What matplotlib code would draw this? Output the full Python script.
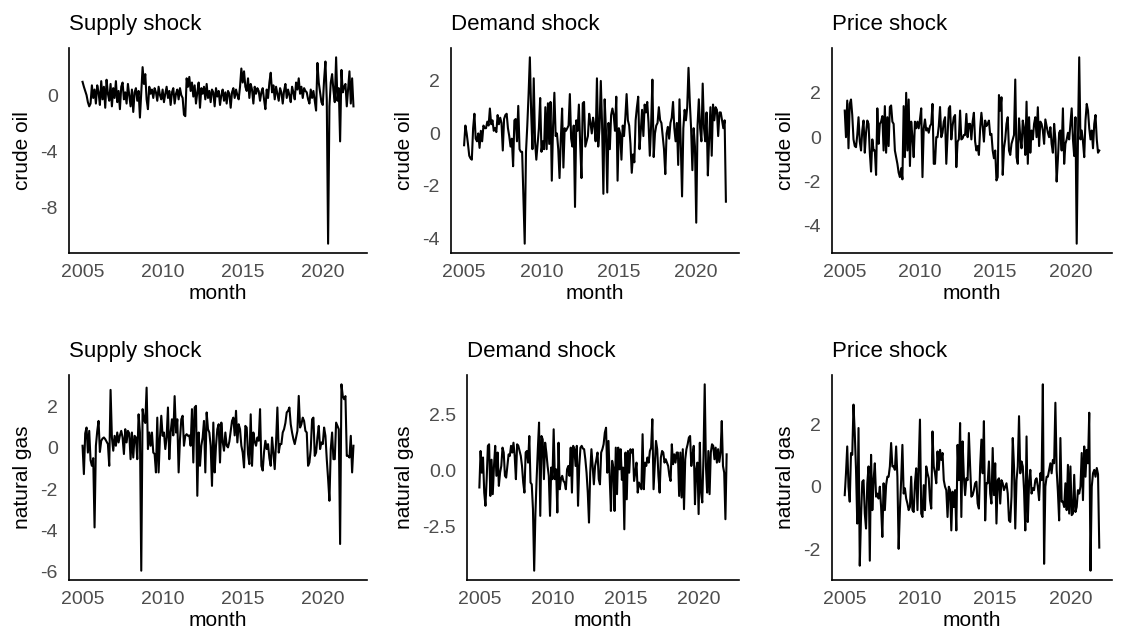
import numpy as np
import matplotlib
matplotlib.use('Agg')
import matplotlib.pyplot as plt

plt.rcParams['font.family'] = ['Liberation Sans', 'DejaVu Sans']
plt.rcParams['axes.unicode_minus'] = False

# monthly shocks, Jan 2005 - Dec 2021
start_year = 2005

supply_oil = [
    0.95, 0.6, 0.3, 0.0, -0.5, -0.8, -0.6, 0.7, -0.2, 0.4, -0.6, 0.7,
    0.2, -0.7, 1.0, -0.3, 0.6, -0.9, 1.1, 0.1, -0.4, 0.8, -0.8, 0.5,
    -0.2, 1.0, -0.5, 0.3, -1.0, 0.6, 0.9, -0.3, 0.2, -0.6, 0.8, 0.0,
    -0.8, 0.4, -1.2, 0.2, 0.5, -0.4, 0.3, -1.6, 0.2, 2.0, 0.8, 1.5,
    -0.3, -1.0, 0.6, 0.1, 0.4, -0.2, 0.5, 0.2, -0.4, 0.6, 0.0, -0.3,
    0.4, -0.5, 0.1, 0.6, -0.2, 0.3, -0.7, 0.2, 0.5, -0.6, 0.1, 0.4,
    -0.3, 0.5, 0.0, -0.2, -1.4, -1.5, 1.2, 0.6, 1.3, 0.3, 0.9, -0.1,
    0.7, -0.6, 0.2, 0.9, -0.9, 0.5, 0.1, 0.6, -0.3, 0.8, -0.2, 0.3,
    -0.5, 0.4, 0.2, -0.8, 0.5, -0.1, 0.3, -0.7, 0.0, 0.4, -0.4, 0.2,
    -0.6, 0.3, 0.1, -0.9, 0.2, 0.5, -0.2, 0.4, 0.0, -0.3, 0.6, 1.9,
    0.9, 1.7, 0.6, 0.3, 1.2, -0.2, 0.8, 0.4, -0.6, 0.6, 0.1, 0.5,
    0.3, -0.4, 0.2, 0.5, -0.3, -1.0, 0.4, -0.2, 0.9, 1.6, 0.2, 0.7,
    -0.3, 0.6, 0.1, -0.4, 0.5, 0.2, -0.6, 0.3, 0.8, -0.2, 0.4, 0.0,
    -0.5, 0.6, 0.2, -0.3, 0.9, 0.4, 1.2, 0.1, 0.6, -0.2, 0.5, 0.3,
    0.2, -0.3, -0.6, 0.4, -0.2, 0.3, -0.4, -1.1, 2.3, 0.9, 0.2, -0.5,
    -0.7, 1.1, 2.4, -0.3, -10.6, -0.8, 0.9, 1.5, 0.35, -0.5, 2.7, -0.4,
    0.5, -3.3, 1.8, 0.2, 0.6, 0.8, -0.8, 0.4, 1.7, -0.6, 1.2, -0.8,
]

demand_oil = [
    -0.45, 0.3, 0.0, -0.4, -0.85, -0.95, -1.0, 0.2, 0.75, -0.2, -0.3, 0.0,
    -0.55, 0.1, -0.3, 0.3, 0.2, 0.2, 0.45, 0.3, 0.95, 0.35, 0.5, 0.1,
    0.2, 0.05, 0.7, 0.35, 0.6, 0.4, -0.65, 0.55, 0.7, 0.75, 0.2, -0.1,
    -0.5, -0.2, -1.25, 0.5, 0.55, -0.3, 1.05, -0.6, -0.7, -0.7, -2.5, -4.2,
    -0.7, 0.3, 1.5, 2.9, 0.8, -0.6, 2.1, -0.3, -1.0, -0.4, 0.2, 1.35,
    -0.7, -0.3, -0.6, 1.0, -0.6, 1.15, -0.4, 1.2, -1.8, 0.3, 1.55, -0.1,
    0.0, -0.6, -1.7, -0.2, 0.95, -1.3, 0.2, 0.1, 0.2, 0.3, 1.5, -0.2,
    -0.5, 0.3, -2.8,
    0.5, 0.1, 1.1, -0.4, -1.7, 1.15, 1.2, -0.5, -0.3, -0.1, 0.75, 0.4,
    0.0, 0.6, 0.3, -0.3, 2.1, -0.5, 0.2, 2.0, 0.3, -2.3, 1.3, 0.1,
    -2.25, 0.4, -0.6, 0.7, 0.95, 0.7, 0.1, 1.4, -1.8, 0.2, 0.0, -1.0,
    0.3, -0.1, 0.6, 1.5, 0.5, 0.3, -0.4, -1.5, -0.8, -1.1, 0.5, 1.0,
    1.4, -0.6, 0.1, 0.9, -0.1, 1.1, 0.8, 1.2, 0.4, -0.85, 0.3, 2.05,
    -0.9, 0.0, 0.3, 0.4, 1.0, 0.5, 0.4, -0.1, -0.6, -1.55, 0.0, 0.25,
    -0.2, 0.4, 0.6, 1.2, 0.2, -0.3, 0.4, -1.2, 1.3, -0.4, -2.4, 0.2,
    0.9, 0.5, 1.0, 2.5, 1.2, 0.2, -1.4, 0.2, -0.5, -3.4, 0.3, 1.3,
    0.2, -0.3, 1.9, 0.2, -0.3, 0.8, -1.6, -0.2, 1.0, -0.85, 1.1, 0.5,
    1.0, 0.9, -0.1, 0.8, 0.8, 0.5, 0.2, 0.5, -2.6,
]

price_oil = [
    1.2, 0.0, 1.65, -0.5, 1.5, 1.7, 1.0, -0.1, -0.4, -0.45, 0.1, 0.9,
    -0.2, -0.6, 0.3, 0.75, -0.7, 0.2, 0.75, 0.6, -0.7, -1.55, -0.1, -0.6,
    -0.6, -1.7, 1.3, -0.3, 0.6, 0.7, 0.95, -0.6, 1.4, -0.7, 0.9, -0.4,
    1.36, 1.43, 0.7, 0.6, -0.6, -0.9, -1.2, -1.6, -1.8, -1.4, -1.9, 1.4,
    -0.9, 2.0, -0.6, 1.7, -1.3, 0.7, 0.0, -0.9, 0.7, 0.4, 0.7, 0.4,
    0.8, 1.3, -1.8, 0.4, 0.8, 0.3, 0.4, 0.2, 0.5, 0.6, 1.5, -1.2,
    -1.2, 0.0, 0.0, 0.5, 1.36, 0.0, 0.2, 0.7, 0.9,
    -1.2, 0.0, 1.3, 1.4, -0.1, 0.5, 0.9, 1.0, -1.35, -0.2, -0.1, 1.2,
    -0.1, -0.05, 0.1, 0.1, 1.05, 0.0, 0.6, 0.6, -0.1, 0.7, 1.1, -0.2,
    -0.6, -0.4, -0.8, 0.4, 1.1, 0.5, -0.2, 0.75, 0.5, 0.6, 0.75, 0.1,
    0.15, -0.6, -0.95, -0.6, -1.95, -1.8, 1.9, 1.2, 1.8, -1.7, -0.5, -0.1,
    0.6, 0.9, -0.6, -0.8, -0.3, -0.1, 0.1, 2.6, -0.9, -1.2, 0.85, 0.0,
    -0.5, 0.75, 0.4, -0.8, 1.6, -1.2, 0.9, -0.7, 0.3, -0.1, 0.6, 0.9,
    0.0, 1.35, -0.4, 0.7, 0.6, 0.3, -0.3, 0.8, 0.5, 0.2, 0.0, 0.45,
    -0.3, -0.7, 0.6, -0.1, -2.0, -1.0, 0.2, 0.3, -0.6, 1.3, -1.2, -0.3,
    -0.1, 0.2, -0.1, 0.6, 1.3, -0.1, -0.85, 0.9, -4.8, -0.1, 3.6, -0.1,
    0.3, -0.2, -0.9, 0.75, 1.5, 1.2, 0.4, -0.1, 0.3, -0.5, 0.6, 1.0,
    -0.1, -0.7, -0.6,
]

supply_gas = [
    0.1, -1.27, 0.7, 0.98, -0.23, 0.82, -0.6, -0.87, -0.5, -3.85, 0.1, 0.8,
    1.3, -0.2, 0.34, 0.45, 0.5, 0.42, 0.3, 0.18, -0.87, 2.8, 0.5, -0.14,
    0.58, 0.1, 0.74, 0.26, 0.6, 0.82, 0.5, -0.3, 0.9, 0.26, 0.82, 0.7,
    -0.55, 0.74, -0.47, 0.58, 0.5, -0.55, 1.62, 0.74, -5.94, 1.87, 1.38, 1.2,
    2.91, -0.06, 0.74, 0.1, 0.74, -0.23, -0.3, -1.19, 1.46, -1.19, 0.5, 1.55,
    0.58, 0.74, -0.06, 0.5, 1.95, -0.55, 0.74, 1.38, 0.6, 2.5, 0.74, 1.38,
    -1.19, 0.4, 1.38, 1.55, 0.1, 0.58, 0.66, 0.58, 0.6, 0.1, 1.87, -0.71,
    1.95, 2.03, -2.32, 0.74, -0.87, 0.1, 0.5, 1.3, -1.19, 1.71, 0.9, 0.74,
    0.1, -1.84, 1.22, -1.19, 0.1, 0.9, 1.14, -0.71, 1.22, 0.3, -0.14, 0.74,
    0.1, 0.02, 0.3, 0.82, 1.30, 1.46, 0.6, 1.79, 0.26, 1.14, 0.9, 0.1,
    -0.23, -0.95, 1.06, 0.98, -0.3, -0.79, 1.62, -0.87, 0.74, 0.3, 0.1, 0.50,
    0.34, 1.87, -0.87, -1.1, -0.2, 0.34, -0.06, 0.18, -0.5, -0.87, 0.50, -0.23,
    -1.03, 0.26, 1.95, -0.23, 0.18, 0.18, 0.74, 0.9, 1.2, 1.71, 1.79, 1.95,
    1.14, 0.74, 0.42, 0.18, 0.5, 0.82, 2.51, 0.98, 1.14, 1.46, 1.30, 0.82,
    0.74, -0.87, -0.71, -0.06, 1.38, 1.46, -0.39, -0.23, 0.5, 1.06, -0.06, 0.26,
    0.18, 0.98, 0.58, -0.55, -1.5, -2.56, -0.06, 0.74, -0.55, -0.55, 1.22, 1.06,
    0.9, -4.65, 3.07, 2.5, 2.35, 2.5, -0.39, -0.39, -0.47, 0.58, -1.19, 0.1,
]

demand_gas = [
    -0.74, 0.89, -0.08, 0.60, -0.97, -1.56, -0.37, 1.12, 1.19, -1.12, 0.5, -1.04,
    0.22, 1.12, -0.22, 0.82, -0.67, -0.08, 0.22, 1.04, 0.82, -0.22, -0.3, 0.22,
    0.74, 0.67, 1.12, 0.82, 1.26, 0.67, -0.37, 1.19, 1.12, 0.9, 0.67, 0.22,
    -0.52, -0.97, 0.82, 0.89, 0.37, 1.56, -0.52, -0.60, -1.71, -4.46, -1.93, -0.37,
    0.97, 2.16, -2.01, 1.56, 1.41, -0.37, 1.26, 0.82, 0.22, -0.22, -2.01, 0.15,
    -0.37, 1.86, -0.37, 0.07, -1.86, 1.26, -0.82, -0.37, -0.22, -0.45, -0.52, -0.82,
    0.07, 0.22, -0.22, 1.04, -0.97, 1.12, 0.97, 0.22, 1.12, -1.56, 0.22, 1.04,
    1.12, 1.0,
    0.97, 0.52, -0.08, -0.97, -2.31, -0.08, 0.97, 0.22, -0.60, 0.22, 0.5, 0.82,
    -0.37, -0.60, 0.82, 0.97, 1.19, 1.71, 1.93, -0.08, 1.34, -0.30, -1.79, 0.45,
    0.15, -1.79, 1.04, -1.04, 1.04, 0.07, 0.97, -0.4, 0.15, -2.61, 0.82, -1.27,
    0.89, -0.08, 0.97, 0.82, 0.97, -0.45, -0.08, 0.37, -0.97, -0.52, -0.67, -0.82,
    1.64, -0.82, 0.37, 0.22, 0.6, 0.37, 0.89, 1.04, 2.31, -0.82, 0.22, 1.34,
    0.97, -0.22, -0.97, 0.60, 0.89, 0.82, 0.37, 0.52, 0.37, 0.22, -0.22, -0.45,
    1.19, 0.3, 0.74, 0.37, 0.82, 0.82, -1.12, 0.82, -1.19, 0.97, -1.71, 0.52,
    0.97, 1.19, 1.49, 1.56, 0.22, 0.7, 1.12, -1.49, 0.07, 0.37, -1.93, 1.26,
    -0.97, -1.41, 0.67, 3.87, 0.22, -0.97, 0.89, -1.04, 0.82, 1.19, 1.12, 0.52,
    1.04, 0.37, 0.97, 0.4, 0.82, 2.23, 0.22, -0.08, -2.16, 0.74,
]

price_gas = [
    -0.27, 0.43, 1.29, 0.0, -0.48, 1.08, 1.02, 2.63, 1.72, 0.54, -1.18, 1.88,
    -2.53, -0.97, 0.16, 0.21, -0.86, -1.34, 0.11, 0.65, -2.37, 1.02, -0.75, 0.21,
    0.75, -0.32, -0.22, -0.38, 0.0, -0.65, -1.61, 0.11, -0.75, 0.05, 0.32, 0.32,
    0.65, 1.40, 0.65, 0.65, 0.54, 1.29, 0.32, -1.99, -0.75, 0.21, 1.34, -0.22,
    -0.05, -0.38, -0.54, -0.75, -0.65, 0.32, -0.75, -0.81, 0.11, 0.59, -0.75, 0.65,
    2.15, -0.86, -0.97, 0.05, -0.75, 0.65, 0.43, 0.27, -0.43, -0.70, 1.77, 0.65,
    0.43, 0.11, 1.13, 0.54, 1.18, 0.86, 1.08, 0.21, 0.0, -0.11, -0.97, 0.0,
    -0.11, -1.40, -0.16,
    -0.65, -0.11, -1.40, 1.34, 0.21, 2.04, -0.97, 1.45, 0.32, -0.27, 0.27, 0.21,
    1.72, 0.65, -0.32, -0.27, -0.11, 0.11, 0.16, -0.54, -0.70, 0.65, 1.51, 0.43,
    2.10, -1.08, 0.11, 0.11, 0.81, -0.22, -0.54, 1.24, -0.27, 0.75, -1.18, 0.21,
    0.27, -0.54, 0.21, 0.11, -0.11, 0.0, 0.11, -0.22, -1.08, -1.13, -0.32, 1.56,
    0.65, -1.34, 0.21, 0.65, 2.26, 0.43, 0.81, 0.65, -0.11, -1.40, 1.61, -1.13,
    0.11, 0.54, -0.22, -0.05, -0.11, 0.21, 0.27, 0.0, -0.43, 0.43, 0.21, 3.28,
    -2.47, 0.0, 0.32, 0.32, 0.54, 0.75, 0.43, 0.86, 0.75, 2.69, 0.54, -0.16,
    -1.08, 1.56, -0.48, -0.48, -0.65, 0.11, -0.75, 0.70, -0.86, 0.65, -0.91, -0.86,
    0.38, -0.81, -0.65, -0.11, -0.22, 0.0, 1.08, -0.43, 1.29, 0.32, 1.18, 0.75,
    2.37, -2.69, 0.0, 0.43, 0.54, 0.32, 0.6, 0.4, -1.95,
]

shock_titles = ['Supply shock', 'Demand shock', 'Price shock']
commodities = ['crude oil', 'natural gas']
x_ticks = [2005, 2010, 2015, 2020]
y_ticks = [
    [0, -4, -8], [2, 0, -2, -4], [2, 0, -2, -4],
    [2, 0, -2, -4, -6], [2.5, 0.0, -2.5], [2, 0, -2],
]
y_labels = [None, None, None, None, ['2.5', '0.0', '-2.5'], None]

series_list = [supply_oil, demand_oil, price_oil, supply_gas, demand_gas, price_gas]

# panel boxes in pixels: left, top, right, bottom
W, H = 1126, 637
boxes = [
    (69, 48, 367, 253), (451, 48, 739, 253), (832, 48, 1112, 253),
    (69, 375, 367, 580), (467, 375, 739, 580), (832, 375, 1112, 580),
]

fig = plt.figure(figsize=(W / 100, H / 100), dpi=100)

for k, series in enumerate(series_list):
    l, t, r, b = boxes[k]
    ax = fig.add_axes([l / W, 1 - b / H, (r - l) / W, (b - t) / H])
    months = start_year + np.arange(len(series)) / 12
    ax.plot(months, series, color='black', lw=1.5)

    ax.set_xticks(x_ticks)
    ax.set_yticks(y_ticks[k])
    if y_labels[k] is not None:
        ax.set_yticklabels(y_labels[k])

    for side in ['top', 'right']:
        ax.spines[side].set_visible(False)
    for side in ['left', 'bottom']:
        ax.spines[side].set_linewidth(1.2)
        ax.spines[side].set_color('black')
    ax.tick_params(length=0, labelsize=14, labelcolor='#4d4d4d', pad=8)

    ax.set_title(shock_titles[k % 3], loc='left', fontsize=16, pad=13)
    ax.set_xlabel('month', fontsize=15, labelpad=2)
    ax.set_ylabel(commodities[k // 3], fontsize=15, labelpad=6)

fig.savefig('out.png', dpi=100)
